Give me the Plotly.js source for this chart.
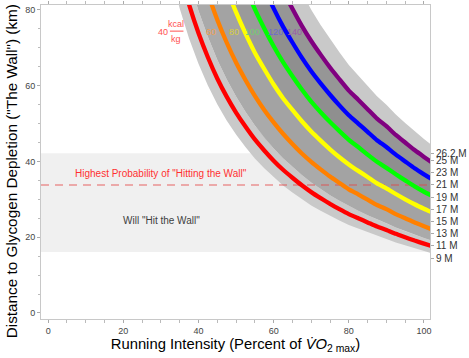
<!DOCTYPE html>
<html>
<head>
<meta charset="utf-8">
<script src="https://cdn.plot.ly/plotly-3.0.1.min.js"></script>
<style>html,body{margin:0;padding:0;background:#fff;}#chart{width:469px;height:358px;}</style>
</head>
<body>
<div id="chart"></div>
<script>
// Running intensity (% VO2max)
const intensity = [32.5,35,37.5,40,42.5,45,47.5,50,52.5,55,57.5,60,62.5,65,67.5,70,72.5,75,77.5,80,82.5,85,87.5,90,92.5,95,97.5,100,102];
// Distance to glycogen depletion (km) for each glycogen store (kcal/kg)
const kcal40  = [100.9,90.3,81.4,73.9,67.5,61.9,57.1,52.9,49.2,45.8,42.9,40.2,37.8,35.7,33.7,31.9,30.3,28.8,27.4,26.1,25.0,23.9,22.8,21.9,20.9,20.0,19.1,18.3,17.7];
const kcal60  = [null,null,101.8,92.4,84.4,77.4,71.4,66.1,61.5,57.3,53.6,50.3,47.3,44.6,42.1,39.9,37.9,36.0,34.3,32.6,31.3,29.9,28.5,27.4,26.1,25.0,23.9,22.9,22.1];
const kcal80  = [null,null,null,null,101.3,92.9,85.7,79.4,73.8,68.7,64.4,60.3,56.7,53.6,50.6,47.9,45.5,43.2,41.1,39.2,37.5,35.9,34.2,32.9,31.4,30.0,28.7,27.5,26.6];
const kcal100 = [null,null,null,null,null,null,99.9,92.6,86.1,80.2,75.1,70.4,66.2,62.5,59.0,55.8,53.0,50.4,48.0,45.7,43.8,41.8,39.9,38.3,36.6,35.0,33.4,32.0,31.0];
const kcal120 = [null,null,null,null,null,null,null,null,98.4,91.6,85.8,80.4,75.6,71.4,67.4,63.8,60.6,57.6,54.8,52.2,50.0,47.8,45.6,43.8,41.8,40.0,38.2,36.6,35.4];
const kcal140 = [null,null,null,null,null,null,null,null,null,null,96.5,90.5,85.1,80.3,75.8,71.8,68.2,64.8,61.7,58.7,56.3,53.8,51.3,49.3,47.0,45.0,43.0,41.2,39.8];
const seriesLabels = ['40','60','80','100','120','140'];
const seriesColors = ['#ff0000','#ff8000','#ffff00','#00ff00','#0000ff','#800080'];
const labelColors  = ['#ff5050','#f0a050','#d8d040','#70d070','#6a6ad0','#9a5aa8'];
const labelX = [30.6, 43.4, 49.5, 54.4, 60.4, 65.6];
// shading: outer uncertainty envelope (relative) and tones between neighbouring curves
const envLow = 0.89, envHigh = 1.115, redStripe = 1.08;
const outerShade = '#c9c9c9';
const betweenShades = ['#aaaaaa','#a3a3a3','#9a9a9a','#8f8f8f','#969696'];
// right-hand race distances (miles)
const raceMiles = [26.2,25,23,21,19,17,15,13,11,9];
const raceLabels = ['26.2 M','25 M','23 M','21 M','19 M','17 M','15 M','13 M','11 M','9 M'];
const wallLowMi = 10, wallHighMi = 26.2, wallPeakMi = 21;
const KM_PER_MI = 1.609344;

const allSeries = [kcal40,kcal60,kcal80,kcal100,kcal120,kcal140];
const traces = [];
function band(lo, hi, color){
  const xs=[], a=[], b=[];
  for(let i=0;i<intensity.length;i++){
    if(lo[i]!==null && hi[i]!==null){ xs.push(intensity[i]); a.push(lo[i]); b.push(hi[i]); }
  }
  traces.push({x: xs.concat(xs.slice().reverse()), y: a.concat(b.slice().reverse()),
    type:'scatter', mode:'lines', fill:'toself', fillcolor:color, line:{width:0}, hoverinfo:'skip', showlegend:false});
}
function scaled(s,f){ return s.map(function(v){ return v===null?null:v*f; }); }
band(scaled(kcal40, envLow), kcal40, outerShade);
band(kcal40, scaled(kcal40, redStripe), outerShade);
band(kcal140, scaled(kcal140, envHigh), outerShade);
band(scaled(kcal40, redStripe), kcal60, betweenShades[0]);
for(let k=1;k<allSeries.length-1;k++){ band(allSeries[k], allSeries[k+1], betweenShades[k]); }

traces.push({x:[-1.9,101.6], y:[wallPeakMi*KM_PER_MI, wallPeakMi*KM_PER_MI], type:'scatter', mode:'lines',
  line:{color:'rgba(230,70,70,0.55)', width:1.5, dash:'8px,6px'}, showlegend:false, hoverinfo:'skip'});
allSeries.forEach(function(s,k){
  traces.push({x: intensity, y: s, type:'scatter', mode:'lines', connectgaps:false,
    line:{color: seriesColors[k], width:4.3, shape:'spline', smoothing:0.5}, showlegend:false});
});
traces.push({x:[0], y:[0], yaxis:'y2', type:'scatter', mode:'markers', marker:{opacity:0}, showlegend:false, hoverinfo:'skip'});

const annotations = [
  {x:30.1, y:36.9, text:'Highest Probability of "Hitting the Wall"', showarrow:false, font:{size:10, color:'#ff3030', family:'Liberation Sans, Arial'}},
  {x:30.2, y:24.5, text:'Will "Hit the Wall"', showarrow:false, font:{size:10, color:'#404040', family:'Liberation Sans, Arial'}},
  {x:34.0, y:76.4, text:'kcal', showarrow:false, font:{size:9, color:labelColors[0], family:'Liberation Sans, Arial'}},
  {x:34.0, y:72.3, text:'kg', showarrow:false, font:{size:9, color:labelColors[0], family:'Liberation Sans, Arial'}},
  {xref:'paper', yref:'paper', x:-0.075, y:0.47, xanchor:'center', yanchor:'middle', textangle:-90, showarrow:false,
   text:'Distance to Glycogen Depletion ("The Wall") (km)', font:{size:15.3, color:'#000', family:'Liberation Sans, Arial'}}
];
seriesLabels.forEach(function(t,k){
  annotations.push({x: labelX[k], y: 74.2, text: t, showarrow:false, font:{size:9, color: labelColors[k], family:'Liberation Sans, Arial'}});
});

const tickFont = {size:9, color:'#444', family:'Liberation Sans, Arial'};
const layout = {
  width:469, height:358,
  margin:{l:41, r:39, t:5, b:39},
  paper_bgcolor:'#fff', plot_bgcolor:'#fff',
  font:{family:'Liberation Sans, Arial', color:'#000'},
  xaxis:{range:[-1.9,101.6], tickvals:[0,20,40,60,80,100], showgrid:false, zeroline:false,
    showline:true, linecolor:'#c8c8c8', mirror:'allticks', ticks:'outside', ticklen:3, tickcolor:'#aaa',
    minor:{dtick:5, ticklen:2, tickcolor:'#bbb', ticks:'outside'}, tickfont:tickFont,
    title:{text:'Running Intensity (Percent of <i>V̇O</i><sub>2 max</sub>)', font:{size:14.8, color:'#000'}, standoff:2}},
  yaxis:{range:[-1.6,81.3], tickvals:[0,20,40,60,80], showgrid:false, zeroline:false,
    showline:true, linecolor:'#c8c8c8', ticks:'outside', ticklen:3, tickcolor:'#aaa',
    minor:{dtick:5, ticklen:2, tickcolor:'#bbb', ticks:'outside'}, tickfont:tickFont},
  yaxis2:{range:[-1.6,81.3], overlaying:'y', side:'right', showgrid:false, zeroline:false,
    tickvals: raceMiles.map(function(m){return m*KM_PER_MI;}), ticktext: raceLabels,
    showline:true, linecolor:'#c8c8c8', ticks:'outside', ticklen:3, tickcolor:'#aaa',
    tickfont:{size:10, color:'#333', family:'Liberation Sans, Arial'}},
  shapes:[
    {type:'rect', xref:'x', yref:'y', x0:-1.9, x1:101.6, y0:wallLowMi*KM_PER_MI, y1:wallHighMi*KM_PER_MI,
     fillcolor:'#f0f0f0', line:{width:0}, layer:'below'},
    {type:'line', xref:'x', yref:'y', x0:32.4, x1:36.0, y0:74.4, y1:74.4, line:{color:labelColors[0], width:1}}
  ],
  annotations: annotations,
  showlegend:false
};
Plotly.newPlot('chart', traces, layout, {displayModeBar:false, staticPlot:true});
</script>
</body>
</html>
